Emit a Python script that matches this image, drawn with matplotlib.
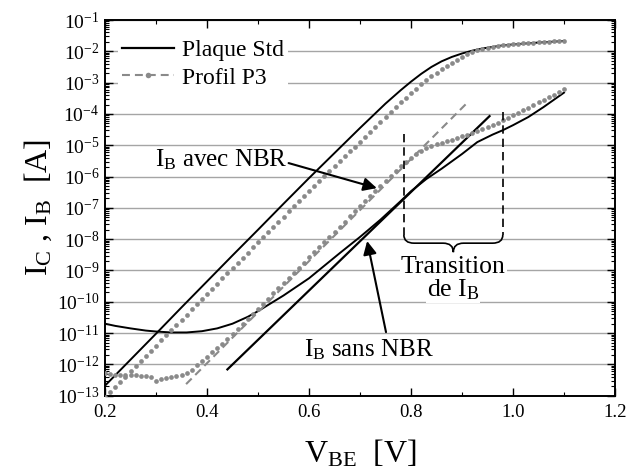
import numpy as np
import matplotlib
matplotlib.use("Agg")
import matplotlib.pyplot as plt
from matplotlib.lines import Line2D
from matplotlib.path import Path
from matplotlib.patches import PathPatch
from matplotlib.ticker import LogLocator, MultipleLocator, FixedLocator, NullFormatter

plt.rcParams['font.family'] = ['Liberation Serif', 'DejaVu Serif']
plt.rcParams['mathtext.fontset'] = 'custom'
plt.rcParams['mathtext.rm'] = 'Liberation Serif'
plt.rcParams['mathtext.it'] = 'Liberation Serif:italic'
plt.rcParams['mathtext.default'] = 'rm'

# ---------------- data (log10 of current in A) ----------------
# Sweep voltage for the measured (dotted) Profil P3 curves
v_p3 = np.round(np.arange(0.20, 1.1001, 0.01), 2)

logic_p3 = [-13.05, -12.88, -12.72, -12.55, -12.39, -12.22, -12.06, -11.89, -11.72, -11.56,
            -11.40, -11.23, -11.07, -10.90, -10.74, -10.57, -10.41, -10.24, -10.08, -9.91,
            -9.75, -9.58, -9.42, -9.25, -9.09, -8.92, -8.76, -8.59, -8.43, -8.26,
            -8.10, -7.94, -7.77, -7.61, -7.44, -7.28, -7.11, -6.95, -6.78, -6.62,
            -6.45, -6.29, -6.13, -5.97, -5.81, -5.65, -5.50, -5.35, -5.20, -5.05,
            -4.90, -4.74, -4.58, -4.42, -4.26, -4.10, -3.95, -3.79, -3.63, -3.48,
            -3.33, -3.19, -3.05, -2.92, -2.80, -2.68, -2.57, -2.46, -2.36, -2.27,
            -2.18, -2.10, -2.03, -1.97, -1.92, -1.88, -1.85, -1.83, -1.81, -1.79,
            -1.77, -1.76, -1.75, -1.73, -1.72, -1.71, -1.70, -1.69, -1.68, -1.67,
            -1.66]

logib_p3 = [-12.28, -12.30, -12.33, -12.35, -12.34, -12.35, -12.34, -12.36, -12.38, -12.40,
            -12.52, -12.47, -12.43, -12.40, -12.38, -12.34, -12.26, -12.17, -12.03, -11.90,
            -11.76, -11.62, -11.48, -11.34, -11.19, -11.04, -10.88, -10.72, -10.55, -10.39,
            -10.22, -10.06, -9.90, -9.73, -9.57, -9.40, -9.24, -9.08, -8.91, -8.75,
            -8.58, -8.42, -8.26, -8.09, -7.93, -7.76, -7.60, -7.44, -7.27, -7.11,
            -6.94, -6.78, -6.62, -6.45, -6.29, -6.13, -5.97, -5.82, -5.67, -5.53,
            -5.40, -5.29, -5.19, -5.10, -5.03, -4.97, -4.92, -4.87, -4.82, -4.77,
            -4.72, -4.66, -4.60, -4.54, -4.47, -4.41, -4.34, -4.28, -4.21, -4.13,
            -4.05, -3.97, -3.89, -3.80, -3.72, -3.63, -3.55, -3.46, -3.38, -3.29,
            -3.21]

# Plaque Std collector current (solid black)
v_std_ic = [0.20, 0.25, 0.30, 0.35, 0.40, 0.45, 0.50, 0.55, 0.60, 0.65, 0.70, 0.75, 0.78,
            0.80, 0.82, 0.84, 0.86, 0.88, 0.90, 0.92, 0.94, 0.96, 0.98, 1.00, 1.05, 1.10]
logic_std = [-12.68, -11.85, -11.02, -10.18, -9.35, -8.52, -7.70, -6.87, -6.05, -5.25, -4.45,
             -3.67, -3.24, -2.97, -2.72, -2.50, -2.32, -2.18, -2.07, -1.98, -1.91, -1.86,
             -1.81, -1.78, -1.72, -1.67]

# Plaque Std base current (solid black)
v_std_ib = [0.20, 0.22, 0.25, 0.28, 0.30, 0.33, 0.36, 0.39, 0.42, 0.45, 0.48, 0.50, 0.52,
            0.55, 0.58, 0.60, 0.63, 0.66, 0.70, 0.74, 0.78, 0.80, 0.83, 0.86, 0.90, 0.93,
            0.96, 0.98, 1.00, 1.03, 1.06, 1.10]
logib_std = [-10.70, -10.77, -10.85, -10.92, -10.95, -10.98, -10.98, -10.94, -10.85, -10.70,
             -10.48, -10.30, -10.10, -9.80, -9.47, -9.25, -8.85, -8.45, -7.93, -7.38,
             -6.78, -6.47, -6.08, -5.75, -5.28, -4.90, -4.66, -4.52, -4.36, -4.10, -3.78,
             -3.32]

# Ideal base current, sans NBR (solid black straight line)
v_ideal_std = [0.44, 0.954]
logib_ideal_std = [-12.16, -4.07]

# Ideal base current, avec NBR (dashed grey straight line)
v_ideal_p3 = [0.359, 0.908]
logib_ideal_p3 = [-12.63, -3.68]

xticks = [0.2, 0.4, 0.6, 0.8, 1.0, 1.2]
xticklabels = ['0.2', '0.4', '0.6', '0.8', '1.0', '1.2']
ydecades = list(range(-13, 0))

GREY = '#8a8a8a'
GRID = '#a5a5a5'

# ---------------- figure ----------------
fig = plt.figure(figsize=(6.26, 4.75), dpi=100)
ax = fig.add_axes([105/626, 1-395.7/475, 510/626, 375.7/475])

ax.set_yscale('log')
ax.set_xlim(0.2, 1.2)
ax.set_ylim(1e-13, 1e-1)

for d in ydecades[1:]:
    ax.axhline(10.0**d, color=GRID, lw=1.0, zorder=0)

ax.plot(v_std_ic, 10.0**np.array(logic_std), color='k', lw=1.4, zorder=3)
ax.plot(v_std_ib, 10.0**np.array(logib_std), color='k', lw=1.4, zorder=3)
ax.plot(v_ideal_std, 10.0**np.array(logib_ideal_std), color='k', lw=1.6, zorder=3)
ax.plot(v_ideal_p3, 10.0**np.array(logib_ideal_p3), color=GREY, lw=1.5,
        dashes=(3.8, 2.4), zorder=3)
ax.plot(v_p3, 10.0**np.array(logic_p3), ls='none', marker='o', ms=3.4,
        mfc=GREY, mec='none', zorder=4)
ax.plot(v_p3, 10.0**np.array(logib_p3), ls='none', marker='o', ms=3.4,
        mfc=GREY, mec='none', zorder=4)

# ticks
ax.xaxis.set_major_locator(FixedLocator(xticks))
ax.set_xticklabels(xticklabels)
ax.xaxis.set_minor_locator(MultipleLocator(0.1))
ax.yaxis.set_major_locator(FixedLocator([10.0**d for d in range(-13, 0)]))
ax.set_yticklabels([r'10$^{%d}$' % d for d in range(-13, 0)])
ax.yaxis.set_minor_locator(LogLocator(base=10, subs=np.arange(2, 10), numticks=100))
ax.yaxis.set_minor_formatter(NullFormatter())
ax.tick_params(which='both', direction='in', top=True, right=True)
ax.tick_params(which='major', length=6, width=1.0, pad=5)
ax.tick_params(which='minor', length=3, width=0.8)
ax.tick_params(axis='x', which='major', labelsize=13.5, pad=6)
ax.tick_params(axis='y', which='major', labelsize=14, pad=4)
for s in ax.spines.values():
    s.set_linewidth(1.4)

ax.set_xlabel(r'V$_{\mathrm{BE}}$  [V]', fontsize=23, labelpad=12)
ax.set_ylabel(r'I$_{\mathrm{C}}$ , I$_{\mathrm{B}}$  [A]', fontsize=23, labelpad=2)

# legend
h1 = Line2D([], [], color='k', lw=1.6)
h2 = Line2D([], [], color=GREY, lw=1.5, dashes=(3.8, 2.4), marker='o', ms=4,
            mec='none', mfc=GREY)
leg = ax.legend([h1, h2], ['Plaque Std', 'Profil P3'], loc='upper left',
                bbox_to_anchor=(0.025, 0.96), fontsize=17, frameon=True,
                facecolor='white', edgecolor='none', framealpha=1, fancybox=False,
                handlelength=2.2, handletextpad=0.3, labelspacing=0.25,
                borderpad=0.2, borderaxespad=0, numpoints=1)
leg.set_zorder(5)

# annotations
bb = dict(facecolor='white', edgecolor='none', pad=0.5)
ax.text(0.557, 10**-5.47, r'I$_{\mathrm{B}}$ avec NBR', fontsize=18, ha='right',
        va='center', bbox=bb, zorder=5)
ax.annotate('', xy=(0.733, 10**-6.37), xytext=(0.560, 10**-5.57),
            arrowprops=dict(arrowstyle='-|>', color='k', lw=1.5, mutation_scale=20,
                            shrinkA=0, shrinkB=0), zorder=6)
ax.text(0.718, 10**-11.52, r'I$_{\mathrm{B}}$ sans NBR', fontsize=18, ha='center',
        va='center', bbox=bb, zorder=5)
ax.annotate('', xy=(0.714, 10**-8.06), xytext=(0.751, 10**-10.97),
            arrowprops=dict(arrowstyle='-|>', color='k', lw=1.5, mutation_scale=20,
                            shrinkA=0, shrinkB=0), zorder=6)
ax.text(0.883, 10**-8.89, 'Transition', fontsize=18.5, ha='center', va='center',
        bbox=bb, zorder=5)
ax.text(0.883, 10**-9.63, r'de I$_{\mathrm{B}}$', fontsize=18.5, ha='center', va='center',
        bbox=bb, zorder=5)

# transition bracket (axes-fraction coordinates)
xl, xr, xc = 0.586, 0.780, 0.683
yb, yh, yt = 0.428, 0.406, 0.382
ax.plot([xl, xl], [0.697, yb], transform=ax.transAxes, color='k', lw=1.2,
        dashes=(5, 3), zorder=5)
ax.plot([xr, xr], [0.756, yb], transform=ax.transAxes, color='k', lw=1.2,
        dashes=(5, 3), zorder=5)
verts = [(xl, yb), (xl, yh), (xl + 0.02, yh), (xc - 0.02, yh), (xc, yh), (xc, yt),
         (xc, yh), (xc + 0.02, yh), (xr - 0.02, yh), (xr, yh), (xr, yb)]
codes = [Path.MOVETO, Path.CURVE3, Path.CURVE3, Path.LINETO, Path.CURVE3, Path.CURVE3,
         Path.CURVE3, Path.CURVE3, Path.LINETO, Path.CURVE3, Path.CURVE3]
ax.add_patch(PathPatch(Path(verts, codes), transform=ax.transAxes, fill=False,
                       edgecolor='k', lw=1.2, zorder=5))

fig.savefig('out.png', dpi=100)
